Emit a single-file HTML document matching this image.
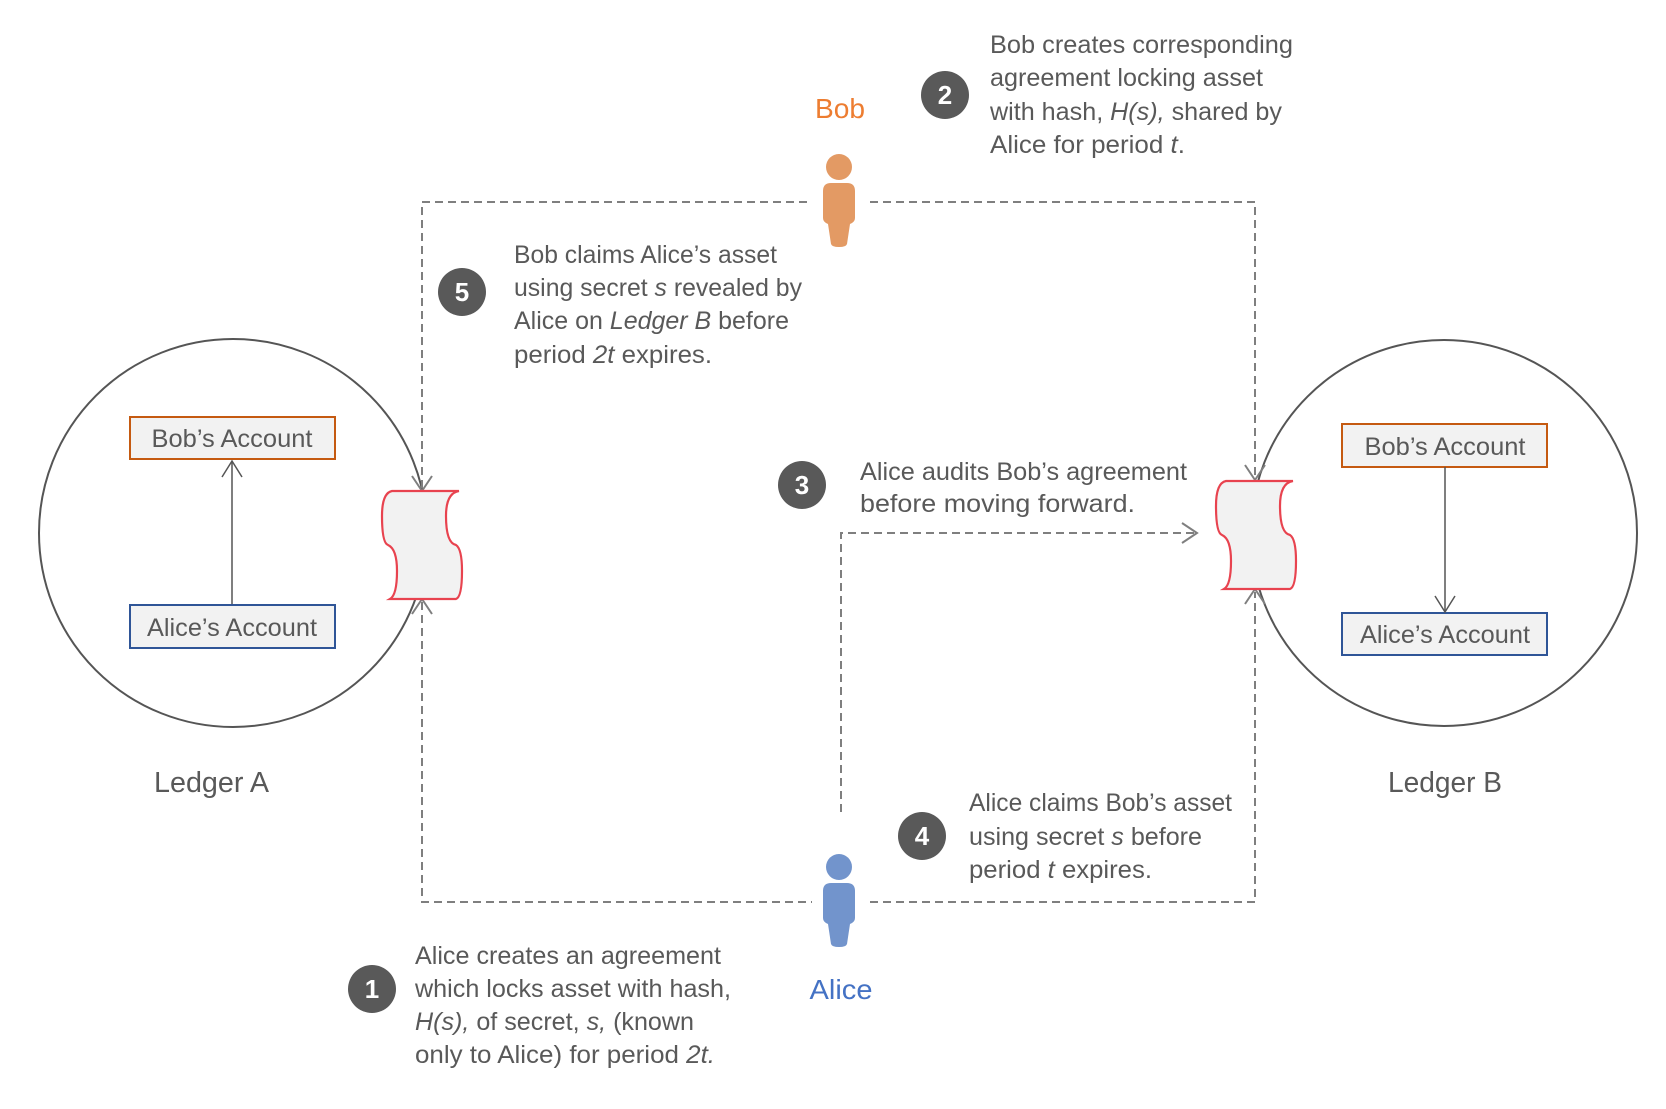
<!DOCTYPE html>
<html><head><meta charset="utf-8"><style>
html,body{margin:0;padding:0;background:#fff;}
svg{display:block;}
text{font-family:"Liberation Sans",sans-serif;fill:#595959;font-size:25px;}
.it{font-style:italic;}
.num{fill:#fff;font-weight:bold;font-size:26px;}
</style></head><body>
<svg width="1666" height="1109" viewBox="0 0 1666 1109" xmlns="http://www.w3.org/2000/svg">
<defs>
<path id="scroll" d="M10 0 L77 0 Q64 2 64 25 Q64 52 74 54 Q80 58 80 80 Q80 106 74 108 L8 108 Q15 104 15 80 Q15 58 6 54 Q0 52 0 25 Q0 2 10 0 Z" fill="#f2f2f2" stroke="#e8434f" stroke-width="2.2"/>
</defs>
<circle cx="233" cy="533" r="194" fill="none" stroke="#555" stroke-width="2"/>
<circle cx="1444" cy="533" r="193" fill="none" stroke="#555" stroke-width="2"/>

<g stroke="#7f7f7f" stroke-width="2" stroke-dasharray="8,5" fill="none">
<path d="M422 488 L422 202 L812 202"/>
<path d="M870 202 L1255 202 L1255 477"/>
<path d="M422 602 L422 902 L812 902"/>
<path d="M870 902 L1255 902 L1255 592"/>
<path d="M841 812 L841 533 L1196 533"/>
</g>
<g stroke="#7f7f7f" stroke-width="2" fill="none">
<path d="M412 476 L422 491 L432 476"/>
<path d="M412 614 L422 599 L432 614"/>
<path d="M1245 465 L1255 480 L1265 465"/>
<path d="M1245 604 L1255 589 L1265 604"/>
<path d="M1182 523 L1197 533 L1182 543"/>
</g>

<use href="#scroll" x="382" y="491"/>
<use href="#scroll" x="1216" y="481"/>

<rect x="130" y="417" width="205" height="42" fill="#f2f2f2" stroke="#c55a11" stroke-width="2"/>
<text x="232" y="447" text-anchor="middle" textLength="161" lengthAdjust="spacingAndGlyphs">Bob’s Account</text>
<rect x="130" y="605" width="205" height="43" fill="#f2f2f2" stroke="#2f5597" stroke-width="2"/>
<text x="232" y="636" text-anchor="middle" textLength="170" lengthAdjust="spacingAndGlyphs">Alice’s Account</text>
<line x1="232" y1="604" x2="232" y2="461" stroke="#555" stroke-width="1.5"/>
<path d="M222 477 L232 461 L242 477" fill="none" stroke="#555" stroke-width="1.5"/>
<text x="154" y="792" style="font-size:29px" textLength="115" lengthAdjust="spacingAndGlyphs">Ledger A</text>

<rect x="1342" y="424" width="205" height="43" fill="#f2f2f2" stroke="#c55a11" stroke-width="2"/>
<text x="1445" y="455" text-anchor="middle" textLength="161" lengthAdjust="spacingAndGlyphs">Bob’s Account</text>
<rect x="1342" y="613" width="205" height="42" fill="#f2f2f2" stroke="#2f5597" stroke-width="2"/>
<text x="1445" y="643" text-anchor="middle" textLength="170" lengthAdjust="spacingAndGlyphs">Alice’s Account</text>
<line x1="1445" y1="467" x2="1445" y2="611" stroke="#555" stroke-width="1.5"/>
<path d="M1435 596 L1445 612 L1455 596" fill="none" stroke="#555" stroke-width="1.5"/>
<text x="1388" y="792" style="font-size:29px" textLength="114" lengthAdjust="spacingAndGlyphs">Ledger B</text>

<text x="840" y="118" text-anchor="middle" style="font-size:28px;fill:#ed7d31" textLength="50" lengthAdjust="spacingAndGlyphs">Bob</text>
<circle cx="839" cy="167" r="13" fill="#e39a64"/>
<path d="M831 183 L847 183 Q855 183 855 191 L855 218 Q855 222 850 224 L847 244 Q846 247 839 247 Q832 247 831 244 L828 224 Q823 222 823 218 L823 191 Q823 183 831 183 Z" fill="#e39a64"/>

<circle cx="839" cy="867" r="13" fill="#7294cc"/>
<path d="M831 883 L847 883 Q855 883 855 891 L855 918 Q855 922 850 924 L847 944 Q846 947 839 947 Q832 947 831 944 L828 924 Q823 922 823 918 L823 891 Q823 883 831 883 Z" fill="#7294cc"/>
<text x="841" y="999" text-anchor="middle" style="font-size:28px;fill:#4472c4" textLength="63" lengthAdjust="spacingAndGlyphs">Alice</text>

<g fill="#595959">
<circle cx="945" cy="95" r="24"/>
<circle cx="462" cy="292" r="24"/>
<circle cx="802" cy="485" r="24"/>
<circle cx="922" cy="836" r="24"/>
<circle cx="372" cy="989" r="24"/>
</g>
<text class="num" x="945" y="104" text-anchor="middle">2</text>
<text class="num" x="462" y="301" text-anchor="middle">5</text>
<text class="num" x="802" y="494" text-anchor="middle">3</text>
<text class="num" x="922" y="845" text-anchor="middle">4</text>
<text class="num" x="372" y="998" text-anchor="middle">1</text>

<text x="990" y="53" textLength="303" lengthAdjust="spacingAndGlyphs">Bob creates corresponding</text>
<text x="990" y="86" textLength="273" lengthAdjust="spacingAndGlyphs">agreement locking asset</text>
<text x="990" y="120" textLength="292" lengthAdjust="spacingAndGlyphs">with hash, <tspan class="it">H(s),</tspan> shared by</text>
<text x="990" y="153" textLength="195" lengthAdjust="spacingAndGlyphs">Alice for period <tspan class="it">t</tspan>.</text>

<text x="514" y="263" textLength="263" lengthAdjust="spacingAndGlyphs">Bob claims Alice’s asset</text>
<text x="514" y="296" textLength="288" lengthAdjust="spacingAndGlyphs">using secret <tspan class="it">s</tspan> revealed by</text>
<text x="514" y="329" textLength="275" lengthAdjust="spacingAndGlyphs">Alice on <tspan class="it">Ledger B</tspan> before</text>
<text x="514" y="363" textLength="198" lengthAdjust="spacingAndGlyphs">period <tspan class="it">2t</tspan> expires.</text>

<text x="860" y="480" textLength="327" lengthAdjust="spacingAndGlyphs">Alice audits Bob’s agreement</text>
<text x="860" y="512" textLength="275" lengthAdjust="spacingAndGlyphs">before moving forward.</text>

<text x="969" y="811" textLength="263" lengthAdjust="spacingAndGlyphs">Alice claims Bob’s asset</text>
<text x="969" y="845" textLength="233" lengthAdjust="spacingAndGlyphs">using secret <tspan class="it">s</tspan> before</text>
<text x="969" y="878" textLength="183" lengthAdjust="spacingAndGlyphs">period <tspan class="it">t</tspan> expires.</text>

<text x="415" y="964" textLength="306" lengthAdjust="spacingAndGlyphs">Alice creates an agreement</text>
<text x="415" y="997" textLength="316" lengthAdjust="spacingAndGlyphs">which locks asset with hash,</text>
<text x="415" y="1030" textLength="279" lengthAdjust="spacingAndGlyphs"><tspan class="it">H(s),</tspan> of secret, <tspan class="it">s,</tspan> (known</text>
<text x="415" y="1063" textLength="300" lengthAdjust="spacingAndGlyphs">only to Alice) for period <tspan class="it">2t.</tspan></text>
</svg>
</body></html>
